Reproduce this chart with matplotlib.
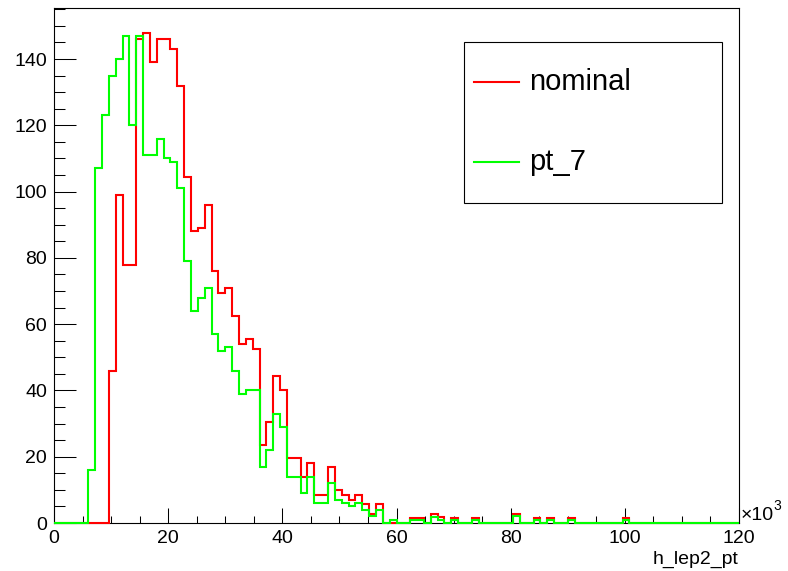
"""Overlay of the h_lep2_pt histogram: nominal vs pt_7 (ROOT-style canvas)."""

import matplotlib

matplotlib.use("Agg")
import matplotlib.pyplot as plt
import numpy as np
from matplotlib.patches import Rectangle
from matplotlib.ticker import MultipleLocator

# 100 bins over 0..120 (x10^3)
x_min, x_max, n_bins = 0.0, 120.0, 100

nominal_counts = [
    0, 0, 0, 0, 0, 0, 0, 0, 46, 99,
    78, 78, 146, 148, 139, 146, 146, 143, 132, 104.5,
    88, 89, 96, 76, 69.5, 71, 62.5, 54, 55.5, 52.5,
    23.5, 30.5, 44.5, 40, 19.5, 19.5, 14, 18, 8.4, 8.4,
    17, 10, 8.5, 7, 8.5, 5.7, 2.6, 5.6, 0, 0,
    0, 0, 1.4, 1.4, 0, 2.6, 1.7, 0, 1.4, 0,
    0, 1.4, 0, 0, 0, 0, 0, 2.7, 0, 0,
    1.4, 0, 1.4, 0, 0, 1.4, 0, 0, 0, 0,
    0, 0, 0, 1.4, 0, 0, 0, 0, 0, 0,
    0, 0, 0, 0, 0, 0, 0, 0, 0, 0,
]

pt7_counts = [
    0, 0, 0, 0, 0, 16, 107, 123, 135, 140,
    147, 120, 147, 111, 111, 116, 110, 109, 101, 79,
    64, 68, 71, 57, 52, 53, 46, 39, 40, 40,
    17, 22, 33, 29, 14, 14, 9, 14, 6, 6,
    12, 7, 6, 5, 6, 4, 2, 4, 0, 0.8,
    0, 0, 0.8, 0.8, 0, 1.8, 0.9, 0, 0.8, 0,
    0, 0.8, 0, 0, 0, 0, 0, 2.0, 0, 0,
    0.8, 0, 0.8, 0, 0, 0.8, 0, 0, 0, 0,
    0, 0, 0, 0.8, 0, 0, 0, 0, 0, 0,
    0, 0, 0, 0, 0, 0, 0, 0, 0, 0,
]

series_labels = ["nominal", "pt_7"]
series_colors = ["#ff0000", "#00ff00"]

plt.rcParams["font.family"] = ["Liberation Sans", "DejaVu Sans"]

W, H = 788, 571
fig = plt.figure(figsize=(W / 100, H / 100), dpi=100, facecolor="white")
ax = fig.add_axes([54 / W, 1 - 523 / H, (739 - 54) / W, (523 - 8) / H])

edges = np.linspace(x_min, x_max, n_bins + 1)
for counts, color in zip([nominal_counts, pt7_counts], series_colors):
    ax.stairs(counts, edges, color=color, linewidth=1.5, baseline=None,
              zorder=3, clip_on=False)

ax.set_xlim(x_min, x_max)
ax.set_ylim(0, 155.4)

for spine in ax.spines.values():
    spine.set_linewidth(0.8)
    spine.set_color("black")

ax.xaxis.set_major_locator(MultipleLocator(20))
ax.xaxis.set_minor_locator(MultipleLocator(5))
ax.yaxis.set_major_locator(MultipleLocator(20))
ax.yaxis.set_minor_locator(MultipleLocator(5))
ax.tick_params(axis="x", which="major", direction="in", length=10.8, width=0.75,
               labelsize=14, pad=5, top=False)
ax.tick_params(axis="x", which="minor", direction="in", length=5, width=0.75, top=False)
ax.tick_params(axis="y", which="major", direction="in", length=15.8, width=0.75,
               labelsize=14, pad=5, right=False)
ax.tick_params(axis="y", which="minor", direction="in", length=7.9, width=0.75, right=False)

# exponent marker and axis title, placed like ROOT does
fig.text(741 / W, 1 - 516 / H, "\u00d710", fontsize=14, ha="left", va="center")
fig.text(773 / W, 1 - 506 / H, "3", fontsize=10, ha="left", va="center")
fig.text(739 / W, 1 - 559 / H, "h_lep2_pt", fontsize=14, ha="right", va="center")

# legend box
def ax_x(px):
    return (px - 54) / (739 - 54)


def ax_y(py):
    return (523 - py) / (523 - 8)


ax.add_patch(Rectangle((ax_x(464), ax_y(203)), ax_x(722) - ax_x(464), ax_y(42) - ax_y(203),
                       transform=ax.transAxes, facecolor="white", edgecolor="black",
                       linewidth=0.8, zorder=5))
for label, color, py in zip(series_labels, series_colors, [81.5, 161.5]):
    ax.plot([ax_x(474), ax_x(519)], [ax_y(py), ax_y(py)], color=color, linewidth=1.5,
            transform=ax.transAxes, zorder=6, clip_on=False)
    ax.text(ax_x(529), ax_y(py), label, fontsize=21, ha="left", va="center",
            transform=ax.transAxes, zorder=6)

fig.savefig("out.png", dpi=100, facecolor="white")
